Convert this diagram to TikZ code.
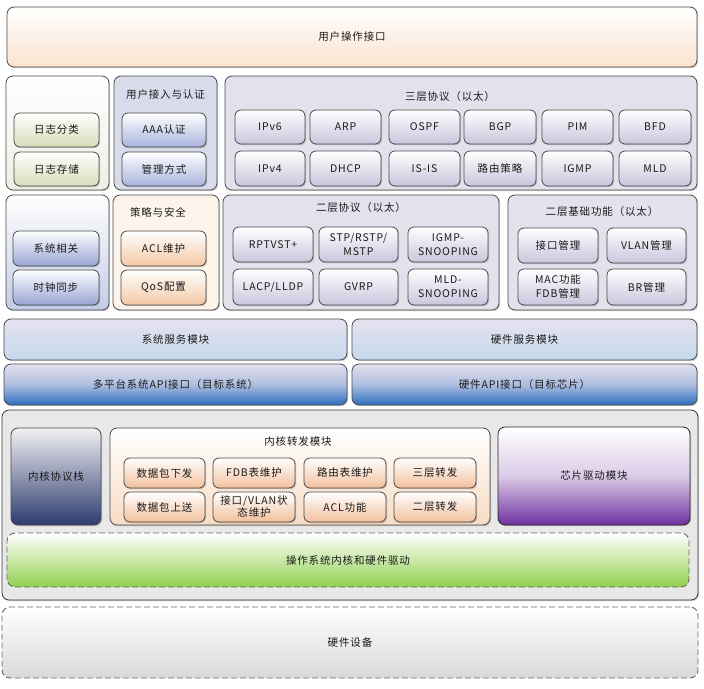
\documentclass[tikz,border=0pt]{standalone}
\usepackage{fontspec}
\setmainfont{Noto Sans CJK SC}[LetterSpace=8]
\usetikzlibrary{shadows}
\definecolor{bord}{HTML}{4A4A4A}
\definecolor{txt}{HTML}{1A1A1A}
\definecolor{peachtop}{HTML}{FBE3D0}
\definecolor{greenc}{HTML}{EEF0E6}
\definecolor{greeni}{HTML}{D5DDBA}
\definecolor{bluec}{HTML}{D8DCEA}
\definecolor{bluei}{HTML}{A8B3DC}
\definecolor{lavc}{HTML}{E4E1ED}
\definecolor{lavi}{HTML}{CBC5DD}
\definecolor{sysc}{HTML}{C2CCE6}
\definecolor{sysi}{HTML}{97A4D3}
\definecolor{peachc}{HTML}{FDF5EC}
\definecolor{peachi}{HTML}{F4C8A4}
\definecolor{svctop}{HTML}{E6E2EF}
\definecolor{svcbot}{HTML}{C3D9EC}
\definecolor{apitop}{HTML}{E4E0EE}
\definecolor{apibot}{HTML}{2D6FBF}
\definecolor{kerngray}{HTML}{E8E8E8}
\definecolor{navy}{HTML}{2C3A70}
\definecolor{fwdc}{HTML}{F8DCC4}
\definecolor{fwdi}{HTML}{F2C09C}
\definecolor{purp}{HTML}{7030A0}
\definecolor{grn}{HTML}{92D050}
\definecolor{hwgray}{HTML}{D9D9D9}
\tikzset{
  base/.style={draw=bord, line width=0.8pt, rounded corners=7pt, inner sep=0pt, outer sep=0pt,
    text=txt, font=\fontsize{10.5}{14}\selectfont, align=center,
    drop shadow={shadow xshift=1.2pt, shadow yshift=-1.2pt, fill=black, opacity=0.18}},
  inner/.style={base, rounded corners=6pt},
  ttl/.style={text=txt, font=\fontsize{10.5}{14}\selectfont, inner sep=0pt},
  dashbox/.style={draw=gray!80!black, dashed, dash pattern=on 6pt off 3pt, line width=0.9pt,
    rounded corners=8pt, inner sep=0pt, outer sep=0pt, text=txt, font=\fontsize{10.5}{14}\selectfont},
}
\newcommand\bx[7]{\node[#2, anchor=north west, minimum width=#5pt-#3pt, minimum height=#6pt-#4pt] (#1) at (#3,#4) {#7};}
\begin{document}
\begin{tikzpicture}[x=1pt,y=-1pt]
\useasboundingbox (0,0) rectangle (704,688);
% top
\bx{ui}{base, top color=white, bottom color=peachtop}{7}{7}{697}{67}{用户操作接口}
% row 2
\bx{logc}{base, top color=white, bottom color=greenc}{6}{76}{109}{190}{}
\bx{log1}{inner, top color=white, bottom color=greeni}{14}{113}{99}{147}{日志分类}
\bx{log2}{inner, top color=white, bottom color=greeni}{14}{152}{99}{186}{日志存储}
\bx{authc}{base, fill=bluec}{114}{76}{217}{190}{}
\node[ttl] (autht) at (165.5,95) {用户接入与认证};
\bx{auth1}{inner, top color=white, bottom color=bluei}{122}{113}{206}{147}{AAA认证}
\bx{auth2}{inner, top color=white, bottom color=bluei}{122}{152}{206}{186}{管理方式}
\bx{l3c}{base, fill=lavc}{225}{76}{697}{190}{}
\node[ttl] (l3t) at (450,97) {三层协议（以太）};
\bx{ipv6}{inner, top color=white, bottom color=lavi}{235}{110}{305}{144}{IPv6}
\bx{arp}{inner, top color=white, bottom color=lavi}{310}{110}{381}{144}{ARP}
\bx{ospf}{inner, top color=white, bottom color=lavi}{389}{110}{460}{144}{OSPF}
\bx{bgp}{inner, top color=white, bottom color=lavi}{464}{110}{536}{144}{BGP}
\bx{pim}{inner, top color=white, bottom color=lavi}{542}{110}{613}{144}{PIM}
\bx{bfd}{inner, top color=white, bottom color=lavi}{619}{110}{691}{144}{BFD}
\bx{ipv4}{inner, top color=white, bottom color=lavi}{235}{151}{305}{186}{IPv4}
\bx{dhcp}{inner, top color=white, bottom color=lavi}{310}{151}{381}{186}{DHCP}
\bx{isis}{inner, top color=white, bottom color=lavi}{389}{151}{460}{186}{IS-IS}
\bx{rpol}{inner, top color=white, bottom color=lavi}{464}{151}{536}{186}{路由策略}
\bx{igmp}{inner, top color=white, bottom color=lavi}{542}{151}{613}{186}{IGMP}
\bx{mld}{inner, top color=white, bottom color=lavi}{619}{151}{691}{186}{MLD}
% row 3
\bx{sysc}{base, top color=white, bottom color=sysc}{6}{195}{109}{310}{}
\bx{sys1}{inner, top color=white, bottom color=sysi}{13}{231}{99}{266}{系统相关}
\bx{sys2}{inner, top color=white, bottom color=sysi}{13}{270}{99}{305}{时钟同步}
\bx{secc}{base, fill=peachc}{113}{195}{219}{310}{}
\node[ttl] (sect) at (158,212) {策略与安全};
\bx{sec1}{inner, top color=white, bottom color=peachi}{121}{231}{206}{266}{ACL维护}
\bx{sec2}{inner, top color=white, bottom color=peachi}{121}{270}{206}{305}{QoS配置}
\bx{l2c}{base, fill=lavc}{223}{195}{499}{310}{}
\node[ttl] (l2t) at (361,208) {二层协议（以太）};
\bx{rpvst}{inner, top color=white, bottom color=lavi}{233}{227}{313}{262}{RPTVST+}
\bx{stp}{inner, top color=white, bottom color=lavi}{319}{227}{398}{262}{STP/RSTP/\\MSTP}
\bx{igs}{inner, top color=white, bottom color=lavi}{408}{227}{488}{262}{IGMP-\\SNOOPING}
\bx{lacp}{inner, top color=white, bottom color=lavi}{233}{269}{313}{305}{LACP/LLDP}
\bx{gvrp}{inner, top color=white, bottom color=lavi}{319}{269}{398}{305}{GVRP}
\bx{mls}{inner, top color=white, bottom color=lavi}{408}{269}{488}{305}{MLD-\\SNOOPING}
\bx{l2bc}{base, fill=lavc}{508}{195}{697}{310}{}
\node[ttl] (l2bt) at (602,212) {二层基础功能（以太）};
\bx{ifm}{inner, top color=white, bottom color=lavi}{518}{228}{598}{263}{接口管理}
\bx{vlan}{inner, top color=white, bottom color=lavi}{607}{228}{686}{263}{VLAN管理}
\bx{mac}{inner, top color=white, bottom color=lavi}{518}{269}{598}{305}{MAC功能\\FDB管理}
\bx{br}{inner, top color=white, bottom color=lavi}{607}{269}{686}{305}{BR管理}
% row 4/5
\bx{sysvc}{base, top color=svctop, bottom color=svcbot}{4}{319}{347}{360}{系统服务模块}
\bx{hwvc}{base, top color=svctop, bottom color=svcbot}{352}{319}{697}{360}{硬件服务模块}
\bx{sapi}{base, top color=apitop, bottom color=apibot, middle color=apitop!70!apibot}{4}{364}{347}{405}{多平台系统API接口（目标系统）}
\bx{hapi}{base, top color=apitop, bottom color=apibot, middle color=apitop!70!apibot}{352}{364}{697}{405}{硬件API接口（目标芯片）}
% kernel area
\bx{kern}{base, draw=black!80, fill=kerngray}{2}{410}{698}{600}{}
\bx{kstack}{base, top color=white!95!black, bottom color=navy}{11}{428}{101}{525}{内核协议栈}
\bx{fwdc}{base, top color=white, bottom color=fwdc}{110}{428}{490}{525}{}
\node[ttl] (fwdt) at (298,441) {内核转发模块};
\bx{pd}{inner, top color=white, bottom color=fwdi}{124}{458}{205}{488}{数据包下发}
\bx{fdb}{inner, top color=white, bottom color=fwdi}{213}{458}{295}{488}{FDB表维护}
\bx{rt}{inner, top color=white, bottom color=fwdi}{304}{458}{386}{488}{路由表维护}
\bx{l3f}{inner, top color=white, bottom color=fwdi}{394}{458}{476}{488}{三层转发}
\bx{pu}{inner, top color=white, bottom color=fwdi}{124}{492}{205}{522}{数据包上送}
\bx{ifv}{inner, top color=white, bottom color=fwdi, font=\fontsize{10.5}{12}\selectfont}{213}{492}{295}{522}{接口/VLAN状\\态维护}
\bx{acl}{inner, top color=white, bottom color=fwdi}{304}{492}{386}{522}{ACL功能}
\bx{l2f}{inner, top color=white, bottom color=fwdi}{394}{492}{476}{522}{二层转发}
\bx{chip}{base, draw=black!85, top color=white, bottom color=purp, middle color=purp!25}{498}{427}{690}{525}{芯片驱动模块}
\bx{os}{dashbox, top color=white, bottom color=grn}{7}{533}{689}{587}{操作系统内核和硬件驱动}
\bx{hw}{dashbox, top color=white, bottom color=hwgray}{2}{607}{698}{678}{硬件设备}
\end{tikzpicture}
\end{document}
